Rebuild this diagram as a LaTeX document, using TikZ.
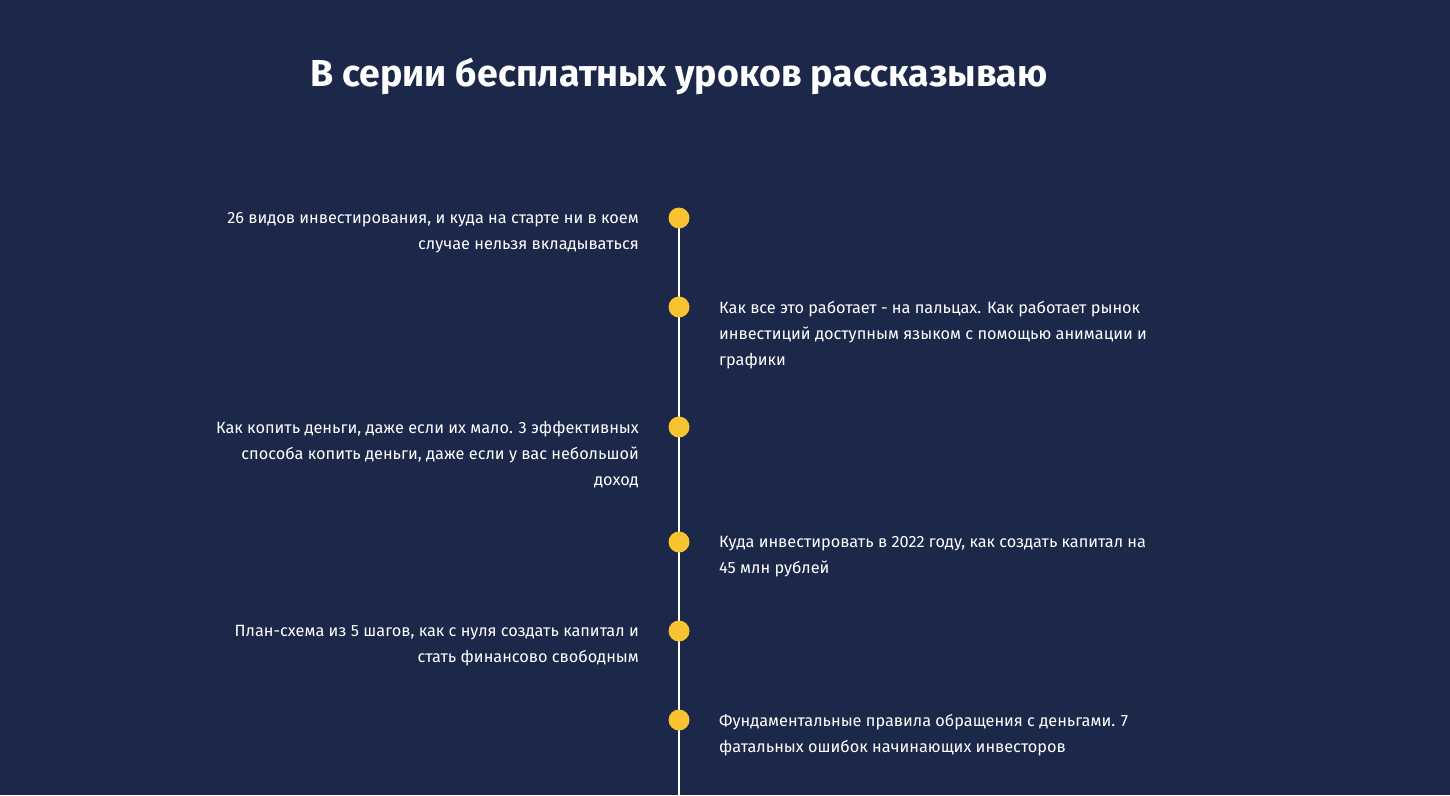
\documentclass[tikz,border=0pt]{standalone}
\usepackage{fontspec}
\setmainfont{Fira Sans}
\definecolor{bg}{HTML}{1B2849}
\definecolor{dot}{HTML}{F7C331}
\begin{document}
\begin{tikzpicture}[x=1pt,y=-1pt,
  txt/.style={text=white,font=\fontsize{16.3}{26}\selectfont,inner sep=0pt},
  lt/.style={txt,anchor=north east,align=right},
  rt/.style={txt,anchor=north west,align=left},
  dotc/.style={circle,fill=dot,minimum size=21pt,inner sep=0pt}]
\fill[bg] (0,0) rectangle (1450,795);
\useasboundingbox (0,0) rectangle (1450,795);
\node[text=white,font=\fontsize{37.5}{42}\selectfont\bfseries] (title) at (679,76) {В серии бесплатных уроков рассказываю};
\coordinate (top) at (679,218);
\coordinate (bot) at (679,795);
\draw[white,line width=2pt] (top) -- (bot);
\foreach \y/\n in {218/d1,307/d2,427/d3,542/d4,631/d5,720/d6}{\node[dotc] (\n) at (679,\y) {};}
\node[lt] (t1) at (639,212) {26 видов инвестирования, и куда на старте ни в коем\\случае нельзя вкладываться};
\node[rt] (t2) at (719,301) {Как все это работает - на пальцах. Как работает рынок\\инвестиций доступным языком с помощью анимации и\\графики};
\node[lt] (t3) at (639,421) {Как копить деньги, даже если их мало. 3 эффективных\\способа копить деньги, даже если у вас небольшой\\доход};
\node[rt] (t4) at (719,536) {Куда инвестировать в 2022 году, как создать капитал на\\45 млн рублей};
\node[lt] (t5) at (639,625) {План-схема из 5 шагов, как с нуля создать капитал и\\стать финансово свободным};
\node[rt] (t6) at (719,714) {Фундаментальные правила обращения с деньгами. 7\\фатальных ошибок начинающих инвесторов};
\end{tikzpicture}
\end{document}
